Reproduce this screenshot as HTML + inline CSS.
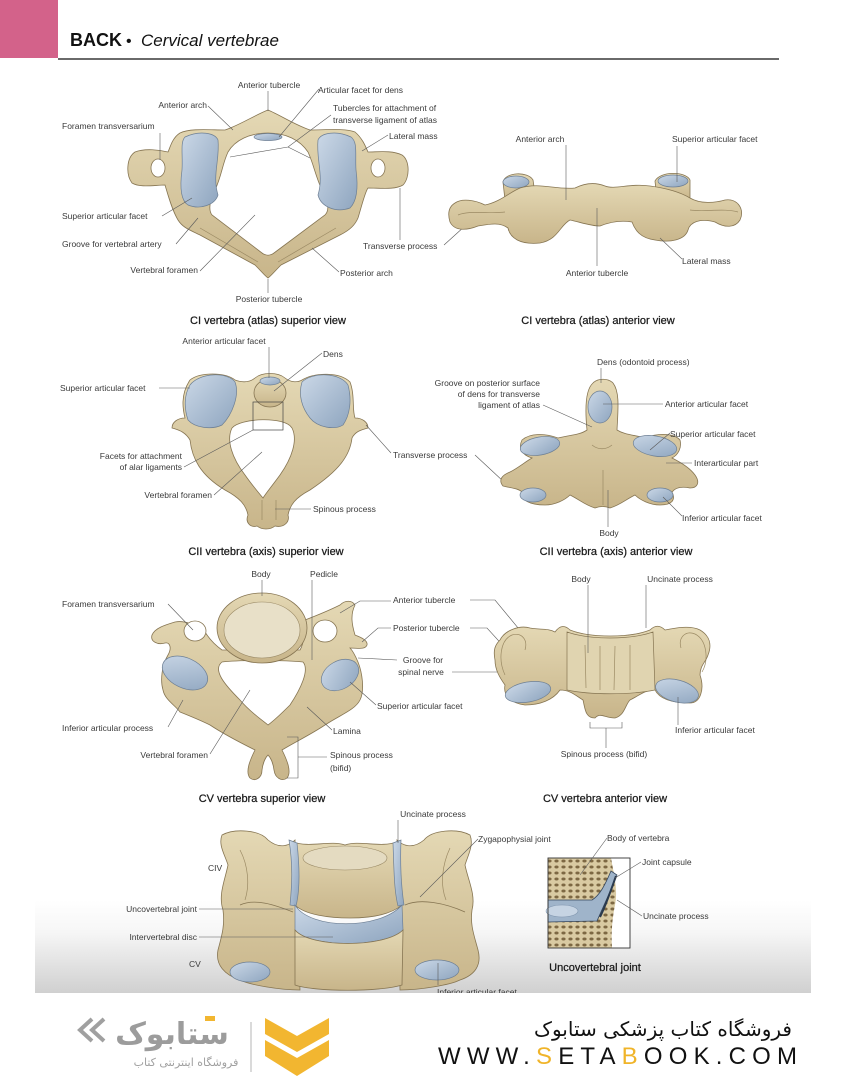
<!DOCTYPE html>
<html><head><meta charset="utf-8"><style>
html,body{margin:0;padding:0;background:#fff;}
svg{display:block;}
.l{font-family:"Liberation Sans",sans-serif;font-size:8.5px;fill:#3a3a3a;}
.c{font-family:"Liberation Sans",sans-serif;font-size:11px;fill:#1a1a1a;stroke:#1a1a1a;stroke-width:0.25;}
.ld{stroke:#5a5a5a;stroke-width:0.6;fill:none;}
.b{fill:url(#bone);stroke:#867552;stroke-width:0.8;}
.b2{fill:#e0d4b0;stroke:#867552;stroke-width:0.7;}
.f{fill:url(#facet);stroke:#6d7f94;stroke-width:0.7;}
.h{fill:#fff;stroke:#867552;stroke-width:0.8;}
.sh{stroke:#9b8a64;stroke-width:0.7;fill:none;}
</style></head><body>
<svg width="844" height="1080" viewBox="0 0 844 1080" xmlns="http://www.w3.org/2000/svg">
<defs>
<linearGradient id="bone" x1="0" y1="0" x2="0" y2="1"><stop offset="0" stop-color="#e4d8b4"/><stop offset="1" stop-color="#c8b58a"/></linearGradient>
<linearGradient id="facet" x1="0" y1="0" x2="1" y2="1"><stop offset="0" stop-color="#cbd8e7"/><stop offset="1" stop-color="#8ea5bf"/></linearGradient>
<linearGradient id="band" x1="0" y1="0" x2="0" y2="1"><stop offset="0" stop-color="#ffffff"/><stop offset="0.35" stop-color="#f6f6f6"/><stop offset="1" stop-color="#d0d0d0"/></linearGradient>
<pattern id="spongy" width="7" height="6" patternUnits="userSpaceOnUse">
<rect width="7" height="6" fill="#d9caa2"/>
<ellipse cx="3.5" cy="3" rx="2.1" ry="1.5" fill="#7d6843"/>
</pattern>
<clipPath id="bandclip"><rect x="0" y="0" width="844" height="993"/></clipPath>
</defs>

<!-- header -->
<rect x="0" y="0" width="58" height="58" fill="#d3628a"/>
<text x="70" y="46" font-family="Liberation Sans, sans-serif" font-size="18" font-weight="bold" fill="#111">BACK</text>
<text x="126" y="46" font-family="Liberation Sans, sans-serif" font-size="16" fill="#111">•</text>
<text x="141" y="46" font-family="Liberation Sans, sans-serif" font-size="17" font-style="italic" fill="#111">Cervical vertebrae</text>
<line x1="58" y1="59" x2="779" y2="59" stroke="#111" stroke-width="1.2"/>

<!-- bottom grey band -->
<rect x="35" y="900" width="776" height="93" fill="url(#band)"/>

<!-- ===== Fig 1: CI superior ===== -->
<path class="b" d="M268,110 C255,115 240,125 225,130 C210,130 190,128 180,133 C172,138 170,148 168,152 C160,150 145,148 135,152 C126,158 126,175 132,183 C140,188 155,185 165,185 C168,195 172,210 178,220 C183,228 190,230 200,235 L255,265 C262,272 265,276 268,278 C271,276 274,272 281,265 L340,235 C350,230 355,225 358,218 C362,205 365,192 368,188 C380,188 395,190 403,185 C410,178 410,160 402,155 C392,150 378,152 368,152 C365,145 362,138 355,132 C345,128 325,130 310,130 C295,125 280,115 268,110 Z"/>
<path class="h" d="M268,133 C250,133 235,140 228,152 C222,165 222,175 215,190 C210,200 208,210 212,215 L262,253 C266,256 270,256 274,253 L325,215 C330,210 328,200 322,190 C315,175 314,165 308,152 C300,140 286,133 268,133 Z"/>
<ellipse class="h" cx="158" cy="168" rx="7" ry="9"/>
<ellipse class="h" cx="378" cy="168" rx="7" ry="9"/>
<path class="f" d="M185,137 C200,130 215,133 218,140 C220,160 212,175 218,195 C215,205 200,210 188,205 C180,200 180,185 182,170 C183,155 180,142 185,137 Z"/>
<path class="f" d="M351,137 C336,130 321,133 318,140 C316,160 324,175 318,195 C321,207 336,213 350,208 C358,200 358,185 356,170 C355,155 358,142 351,137 Z"/>
<ellipse class="f" cx="268" cy="137" rx="14" ry="3.5"/>
<path class="sh" d="M200,228 L258,262 M336,228 L278,262"/>

<g class="ld">
<line x1="268" y1="91" x2="268" y2="111"/>
<line x1="319" y1="89" x2="279" y2="137"/>
<polyline points="331,115 288,147 230,157"/>
<line x1="288" y1="147" x2="310" y2="158"/>
<line x1="208" y1="106" x2="233" y2="130"/>
<line x1="388" y1="135" x2="362" y2="151"/>
<line x1="160" y1="133" x2="160" y2="160"/>
<line x1="162" y1="216" x2="192" y2="198"/>
<line x1="176" y1="244" x2="198" y2="218"/>
<line x1="200" y1="271" x2="255" y2="215"/>
<line x1="268" y1="279" x2="268" y2="293"/>
<line x1="400" y1="188" x2="400" y2="240"/>
<line x1="339" y1="272" x2="312" y2="248"/>
<line x1="444" y1="245" x2="465" y2="226"/>
</g>
<text class="l" x="269" y="88" text-anchor="middle">Anterior tubercle</text>
<text class="l" x="318" y="93">Articular facet for dens</text>
<text class="l" x="333" y="111">Tubercles for attachment of</text>
<text class="l" x="333" y="123">transverse ligament of atlas</text>
<text class="l" x="207" y="108" text-anchor="end">Anterior arch</text>
<text class="l" x="389" y="139">Lateral mass</text>
<text class="l" x="62" y="129">Foramen transversarium</text>
<text class="l" x="62" y="219">Superior articular facet</text>
<text class="l" x="62" y="247">Groove for vertebral artery</text>
<text class="l" x="198" y="273" text-anchor="end">Vertebral foramen</text>
<text class="l" x="269" y="302" text-anchor="middle">Posterior tubercle</text>
<text class="l" x="363" y="249">Transverse process</text>
<text class="l" x="340" y="276">Posterior arch</text>
<text class="c" x="268" y="324" text-anchor="middle">CI vertebra (atlas) superior view</text>

<!-- ===== Fig 2: CI anterior ===== -->
<path class="b" d="M503,182 C505,172 528,171 533,180 L536,200 L505,200 Z"/>
<path class="b" d="M655,181 C660,171 686,171 690,180 L690,200 L657,200 Z"/>
<ellipse class="f" cx="516" cy="182" rx="13" ry="6"/>
<ellipse class="f" cx="673" cy="181" rx="15" ry="6"/>
<path class="b" d="M455,203 C462,198 475,200 485,205 C500,202 510,192 520,188 C540,182 555,190 575,188 C585,183 595,182 605,186 C615,190 630,183 650,186 C665,188 680,192 690,198 C700,204 715,203 725,200 C738,198 745,210 740,220 C735,228 725,228 715,222 C700,218 690,222 688,230 C685,240 670,243 655,240 C640,238 635,230 632,222 C620,220 610,222 600,226 C590,226 580,222 570,220 C560,225 558,240 540,243 C520,245 510,238 508,228 C500,222 490,224 478,226 C468,230 455,232 450,222 C447,212 450,206 455,203 Z"/>
<path class="sh" d="M458,215 C470,210 490,214 505,212 M738,212 C725,208 705,212 690,210"/>
<g class="ld">
<line x1="566" y1="145" x2="566" y2="200"/>
<line x1="677" y1="146" x2="677" y2="182"/>
<line x1="597" y1="208" x2="597" y2="266"/>
<line x1="682" y1="259" x2="660" y2="238"/>
</g>
<text class="l" x="540" y="142" text-anchor="middle">Anterior arch</text>
<text class="l" x="672" y="142">Superior articular facet</text>
<text class="l" x="597" y="276" text-anchor="middle">Anterior tubercle</text>
<text class="l" x="682" y="264">Lateral mass</text>
<text class="c" x="598" y="324" text-anchor="middle">CI vertebra (atlas) anterior view</text>

<!-- ===== Fig 3: CII superior ===== -->
<path class="b" d="M190,380 C200,372 225,372 235,380 C243,383 250,382 255,378 C262,372 278,372 285,378 C290,382 297,383 302,380 C315,372 340,372 350,382 C355,395 352,410 355,418 C362,418 368,422 368,428 C360,430 355,432 352,438 C350,455 340,470 310,490 C295,498 290,505 288,515 C290,522 284,528 275,526 C270,530 262,530 257,526 C250,528 245,522 248,515 C246,505 240,498 225,490 C200,475 192,458 190,440 C186,433 180,430 172,428 C172,422 178,418 185,418 C183,410 180,395 190,380 Z"/>
<path class="h" d="M232,428 C240,418 285,416 292,428 C298,440 292,458 280,475 C272,486 266,493 263,498 C258,492 252,485 245,475 C232,458 226,440 232,428 Z"/>
<ellipse class="b" cx="270" cy="393" rx="16" ry="14"/>
<ellipse class="f" cx="270" cy="381" rx="10" ry="4"/>
<rect x="253" y="402" width="30" height="28" fill="none" stroke="#444" stroke-width="0.7"/>
<path class="f" d="M190,385 C200,372 228,372 235,382 C240,395 232,415 222,425 C212,430 195,428 188,420 C184,408 184,395 190,385 Z"/>
<path class="f" d="M302,382 C312,372 340,372 348,385 C352,400 350,415 343,425 C335,430 318,428 310,418 C302,408 298,395 302,382 Z"/>
<path class="sh" d="M262,500 L262,520 M276,500 L276,520"/>
<g class="ld">
<line x1="269" y1="347" x2="269" y2="378"/>
<line x1="322" y1="353" x2="274" y2="391"/>
<line x1="159" y1="388" x2="190" y2="388"/>
<line x1="184" y1="467" x2="253" y2="430"/>
<line x1="214" y1="495" x2="262" y2="452"/>
<line x1="311" y1="509" x2="275" y2="509"/>
<line x1="366" y1="425" x2="391" y2="453"/>
<line x1="475" y1="455" x2="504" y2="482"/>
</g>
<text class="l" x="224" y="344" text-anchor="middle">Anterior articular facet</text>
<text class="l" x="323" y="357">Dens</text>
<text class="l" x="60" y="391">Superior articular facet</text>
<text class="l" x="182" y="459" text-anchor="end">Facets for attachment</text>
<text class="l" x="182" y="470" text-anchor="end">of alar ligaments</text>
<text class="l" x="212" y="498" text-anchor="end">Vertebral foramen</text>
<text class="l" x="313" y="512">Spinous process</text>
<text class="l" x="393" y="458">Transverse process</text>
<text class="c" x="266" y="555" text-anchor="middle">CII vertebra (axis) superior view</text>

<!-- ===== Fig 4: CII anterior ===== -->
<path class="b" d="M587,430 C585,410 585,390 593,383 C598,378 608,378 613,383 C620,392 618,410 617,430 C625,435 635,435 645,438 C660,432 675,434 680,440 C682,448 678,455 672,458 C680,462 690,468 695,475 C700,482 698,488 690,488 C680,486 675,488 672,492 C676,500 672,505 660,505 C650,505 640,500 635,495 C625,500 620,505 610,508 C605,506 600,506 595,508 C585,505 580,500 570,495 C565,500 555,505 545,505 C530,505 520,500 522,492 C518,488 510,488 503,486 C498,480 502,475 510,472 C518,468 525,462 532,458 C522,455 518,448 522,440 C530,433 545,433 558,438 C570,435 580,435 587,430 Z"/>
<ellipse class="f" cx="600" cy="407" rx="12" ry="16"/>
<ellipse class="f" cx="540" cy="446" rx="20" ry="9" transform="rotate(-10 540 446)"/>
<ellipse class="f" cx="655" cy="446" rx="22" ry="10" transform="rotate(10 655 446)"/>
<ellipse class="f" cx="533" cy="495" rx="13" ry="7"/>
<ellipse class="f" cx="660" cy="495" rx="13" ry="7"/>
<path class="sh" d="M603,470 L603,505 M592,445 C598,450 606,450 612,445"/>
<g class="ld">
<line x1="601" y1="368" x2="601" y2="383"/>
<line x1="543" y1="405" x2="592" y2="427"/>
<line x1="603" y1="404" x2="663" y2="404"/>
<line x1="670" y1="433" x2="650" y2="450"/>
<line x1="666" y1="463" x2="692" y2="463"/>
<line x1="682" y1="516" x2="663" y2="497"/>
<line x1="608" y1="490" x2="608" y2="527"/>
</g>
<text class="l" x="597" y="365">Dens (odontoid process)</text>
<text class="l" x="540" y="386" text-anchor="end">Groove on posterior surface</text>
<text class="l" x="540" y="397" text-anchor="end">of dens for transverse</text>
<text class="l" x="540" y="408" text-anchor="end">ligament of atlas</text>
<text class="l" x="665" y="407">Anterior articular facet</text>
<text class="l" x="670" y="437">Superior articular facet</text>
<text class="l" x="694" y="466">Interarticular part</text>
<text class="l" x="682" y="521">Inferior articular facet</text>
<text class="l" x="609" y="536" text-anchor="middle">Body</text>
<text class="c" x="616" y="555" text-anchor="middle">CII vertebra (axis) anterior view</text>

<!-- ===== Fig 5: CV superior ===== -->
<path class="b" d="M222,650 C215,645 210,640 205,632 C195,625 185,620 175,622 C165,625 155,628 152,635 C150,642 158,645 165,643 C170,642 172,648 168,655 C162,665 160,680 163,690 C165,700 175,705 180,712 C190,716 200,720 210,725 C225,735 245,745 255,750 C250,760 245,772 250,778 C255,782 262,778 262,770 C263,762 266,757 268,755 C270,757 273,762 274,770 C275,778 282,782 287,778 C292,772 287,760 282,750 C295,742 310,735 325,725 C340,715 355,710 360,700 C365,690 362,672 358,662 C355,655 352,650 350,648 C358,648 365,650 367,645 C368,640 360,637 355,635 C352,625 350,615 355,605 C352,600 345,600 340,605 C330,610 318,615 305,620 C305,635 303,645 300,650 Z"/>
<path class="h" d="M222,662 C240,660 285,660 303,662 C310,670 300,690 290,705 C280,715 272,722 268,725 C262,720 250,712 240,700 C225,685 212,670 222,662 Z"/>
<ellipse class="h" cx="195" cy="631" rx="11" ry="10"/>
<ellipse class="h" cx="325" cy="631" rx="12" ry="11"/>
<ellipse class="b" cx="262" cy="628" rx="45" ry="35"/>
<ellipse cx="262" cy="630" rx="38" ry="28" fill="#e8e0c8" stroke="#9a8a66" stroke-width="0.6"/>
<ellipse class="f" cx="185" cy="673" rx="24" ry="15" transform="rotate(25 185 673)"/>
<ellipse class="f" cx="340" cy="675" rx="20" ry="14" transform="rotate(-30 340 675)"/>
<g class="ld">
<line x1="262" y1="580" x2="262" y2="596"/>
<line x1="312" y1="580" x2="312" y2="660"/>
<line x1="168" y1="604" x2="193" y2="630"/>
<polyline points="340,613 360,601 391,601"/>
<polyline points="470,600 495,600 528,640"/>
<polyline points="362,642 378,628 391,628"/>
<polyline points="470,628 487,628 507,650"/>
<line x1="358" y1="658" x2="397" y2="660"/>
<line x1="452" y1="672" x2="497" y2="672"/>
<line x1="376" y1="705" x2="350" y2="682"/>
<line x1="332" y1="730" x2="307" y2="707"/>
<polyline points="287,737 298,737 298,778 287,778"/>
<line x1="298" y1="757" x2="327" y2="757"/>
<line x1="168" y1="727" x2="183" y2="700"/>
<line x1="210" y1="754" x2="250" y2="690"/>
</g>
<text class="l" x="261" y="577" text-anchor="middle">Body</text>
<text class="l" x="324" y="577" text-anchor="middle">Pedicle</text>
<text class="l" x="62" y="607">Foramen transversarium</text>
<text class="l" x="393" y="603">Anterior tubercle</text>
<text class="l" x="393" y="631">Posterior tubercle</text>
<text class="l" x="423" y="663" text-anchor="middle">Groove for</text>
<text class="l" x="421" y="675" text-anchor="middle">spinal nerve</text>
<text class="l" x="377" y="709">Superior articular facet</text>
<text class="l" x="333" y="734">Lamina</text>
<text class="l" x="330" y="758">Spinous process</text>
<text class="l" x="330" y="771">(bifid)</text>
<text class="l" x="62" y="731">Inferior articular process</text>
<text class="l" x="208" y="758" text-anchor="end">Vertebral foramen</text>
<text class="c" x="262" y="802" text-anchor="middle">CV vertebra superior view</text>

<!-- ===== Fig 6: CV anterior ===== -->
<path class="b" d="M500,640 C505,630 520,625 530,628 C540,630 548,628 555,632 C560,625 565,625 570,630 C590,638 630,638 650,630 C655,625 660,625 665,630 C675,628 690,625 700,630 C710,636 712,645 708,655 C706,662 700,665 700,675 C705,690 700,703 690,703 C675,703 660,700 655,690 C645,690 640,695 630,700 C625,705 625,715 615,718 C605,718 600,712 595,718 C585,718 585,708 583,700 C575,695 570,690 560,690 C553,700 540,705 525,705 C510,703 503,695 505,685 C500,678 495,670 495,660 C493,650 495,645 500,640 Z"/>
<path class="b2" d="M567,632 C590,640 630,640 653,632 L655,690 C630,695 590,695 567,690 Z"/>
<path class="sh" d="M505,675 C498,660 500,640 512,635 C522,632 528,640 525,650 M702,672 C709,660 707,640 695,634 C685,630 678,638 681,648 M585,645 L586,688 M600,646 L600,690 M615,646 L614,690 M630,645 L630,690"/>
<ellipse class="f" cx="528" cy="692" rx="23" ry="10" transform="rotate(-10 528 692)"/>
<ellipse class="f" cx="677" cy="691" rx="22" ry="11" transform="rotate(15 677 691)"/>
<g class="ld">
<line x1="588" y1="585" x2="588" y2="653"/>
<line x1="646" y1="585" x2="646" y2="628"/>
<line x1="678" y1="697" x2="678" y2="725"/>
<polyline points="590,722 590,728 622,728 622,722"/>
<line x1="606" y1="728" x2="606" y2="748"/>
</g>
<text class="l" x="581" y="582" text-anchor="middle">Body</text>
<text class="l" x="680" y="582" text-anchor="middle">Uncinate process</text>
<text class="l" x="675" y="733">Inferior articular facet</text>
<text class="l" x="604" y="757" text-anchor="middle">Spinous process (bifid)</text>
<text class="c" x="605" y="802" text-anchor="middle">CV vertebra anterior view</text>

<!-- ===== Fig 7: CIV-CV ===== -->
<path class="b" d="M222,835 C235,828 260,830 268,840 C280,850 290,845 295,840 L300,990 C280,990 250,985 240,980 C225,975 215,965 218,950 C222,935 225,925 223,910 C218,895 225,880 228,865 C225,855 218,845 222,835 Z"/>
<path class="b" d="M470,835 C457,828 432,830 424,840 C412,850 402,845 397,840 L400,990 C420,990 450,985 460,980 C475,975 482,965 478,950 C474,935 470,925 472,910 C476,895 468,880 465,865 C468,855 474,845 470,835 Z"/>
<path d="M240,905 C255,898 275,905 293,912 M405,905 C420,898 445,903 465,912" stroke="#867552" stroke-width="0.8" fill="none"/>
<path class="b" d="M293,842 C310,848 330,840 345,845 C360,840 380,848 397,842 L402,905 C390,915 370,918 350,918 C330,918 305,915 295,905 Z"/>
<ellipse cx="345" cy="858" rx="42" ry="12" fill="#e4dbc1" stroke="#9a8a66" stroke-width="0.6"/>
<path class="f" d="M289,840 L297,843 C300,870 300,890 296,906 L290,905 C292,885 293,865 289,840 Z"/>
<path class="f" d="M393,843 L401,840 C400,865 401,885 404,905 L398,906 C394,890 394,870 393,843 Z"/>
<path class="f" d="M295,905 C310,930 380,930 402,905 L403,930 C385,948 310,948 295,930 Z"/>
<path class="b" d="M295,930 C310,948 385,948 403,930 L402,985 C380,992 315,992 295,985 Z"/>
<path class="sh" d="M240,850 C248,865 250,885 245,900 M450,848 C442,865 440,885 446,900"/>
<ellipse class="f" cx="250" cy="972" rx="20" ry="10"/>
<ellipse class="f" cx="437" cy="970" rx="22" ry="10"/>
<g class="ld">
<line x1="398" y1="820" x2="398" y2="843"/>
<line x1="478" y1="839" x2="420" y2="897"/>
<line x1="199" y1="909" x2="293" y2="909"/>
<line x1="199" y1="937" x2="333" y2="937"/>
<line x1="438" y1="963" x2="438" y2="985"/>
</g>
<text class="l" x="433" y="817" text-anchor="middle">Uncinate process</text>
<text class="l" x="478" y="842">Zygapophysial joint</text>
<text class="l" x="208" y="871">CIV</text>
<text class="l" x="197" y="912" text-anchor="end">Uncovertebral joint</text>
<text class="l" x="197" y="940" text-anchor="end">Intervertebral disc</text>
<text class="l" x="189" y="967">CV</text>
<g clip-path="url(#bandclip)"><text class="l" x="437" y="995">Inferior articular facet</text></g>

<!-- ===== Fig 8: Uncovertebral joint inset ===== -->
<rect x="548" y="858" width="82" height="90" fill="#fff"/>
<path d="M548,858 L611,858 C614,875 618,890 615,905 C612,920 611,935 612,948 L548,948 Z" fill="url(#spongy)"/>
<path d="M548,900 L592,900 C600,895 605,885 611,871 L617,875 C611,890 604,905 597,921 L548,922 Z" fill="#9fb4ca" stroke="#35465c" stroke-width="0.8"/>
<ellipse cx="562" cy="911" rx="16" ry="6" fill="#c6d4e3" stroke="#7f95ae" stroke-width="0.6"/>
<path d="M600,917 C606,905 611,890 616,876" stroke="#2a3a4e" stroke-width="2" fill="none"/>
<rect x="548" y="858" width="82" height="90" fill="none" stroke="#333" stroke-width="0.9"/>
<g class="ld">
<line x1="607" y1="838" x2="580" y2="875"/>
<line x1="641" y1="862" x2="615" y2="878"/>
<line x1="642" y1="916" x2="617" y2="900"/>
</g>
<text class="l" x="607" y="841">Body of vertebra</text>
<text class="l" x="642" y="865">Joint capsule</text>
<text class="l" x="643" y="919">Uncinate process</text>
<text class="c" x="595" y="971" text-anchor="middle">Uncovertebral joint</text>

<!-- ===== footer ===== -->
<polyline points="92,1019 80,1030 92,1041" fill="none" stroke="#a0a0a0" stroke-width="4"/>
<polyline points="104,1019 92,1030 104,1041" fill="none" stroke="#a0a0a0" stroke-width="4"/>
<text x="172" y="1044" text-anchor="middle" font-family="DejaVu Sans, sans-serif" font-size="30" font-weight="bold" fill="#9c9c9c">ستابوک</text>
<rect x="205" y="1016" width="10" height="5" fill="#f2b630"/>
<text x="186" y="1066" text-anchor="middle" font-family="DejaVu Sans, sans-serif" font-size="11" fill="#a0a0a0">فروشگاه اینترنتی کتاب</text>
<line x1="251" y1="1022" x2="251" y2="1072" stroke="#c0c0c0" stroke-width="1.2"/>
<polygon points="265,1018 297,1036 329,1018 329,1034 297,1052 265,1034" fill="#f2b630"/>
<polygon points="265,1040 297,1058 329,1040 329,1056 297,1076 265,1056" fill="#f2b630"/>
<text x="792" y="1036" text-anchor="end" font-family="DejaVu Sans, sans-serif" font-size="20" fill="#111">فروشگاه کتاب پزشکی ستابوک</text>
<text x="438" y="1064" font-family="Liberation Sans, sans-serif" font-size="24" fill="#111" textLength="359" lengthAdjust="spacing">WWW.<tspan fill="#f0b429">S</tspan>ETA<tspan fill="#f0b429">B</tspan>OOK.COM</text>
</svg>
</body></html>
